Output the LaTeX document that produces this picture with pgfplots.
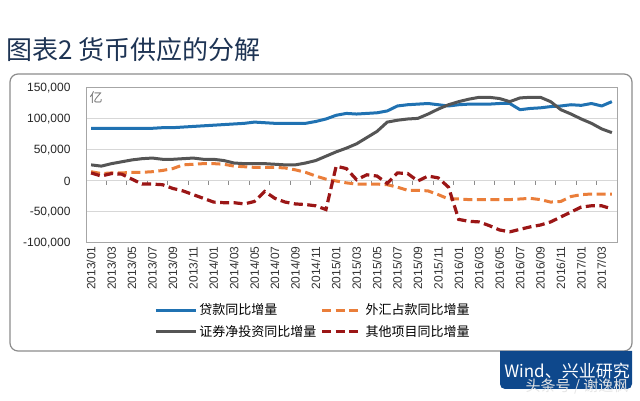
\documentclass[border=0pt]{standalone}
\usepackage{pgfplots}
\pgfplotsset{compat=1.18}
\usepackage{pgfplotstable}
\usepackage{fontspec}
\setmainfont{Liberation Sans}
\newfontfamily\cjk{Noto Sans CJK SC}
\definecolor{cblue}{RGB}{32,114,178}
\definecolor{corange}{RGB}{234,126,58}
\definecolor{cgrey}{RGB}{85,85,85}
\definecolor{cred}{RGB}{155,22,22}
\definecolor{titlecol}{RGB}{30,52,84}
\definecolor{windblue}{RGB}{14,72,140}
\definecolor{gridc}{RGB}{215,215,215}
\pgfplotstableread{
i loan fx sec other
0 85000 15000 26000 13000
1 85000 12000 24000 8000
2 85000 13000 28000 12000
3 85000 13000 31000 11000
4 85000 14000 34000 3000
5 85000 14000 36000 -5000
6 85000 15000 37000 -5000
7 86000 17000 35000 -6000
8 86000 20000 35000 -12000
9 87000 26000 36000 -16000
10 88000 27000 37000 -22000
11 89000 28000 35000 -28000
12 90000 28000 35000 -34000
13 91000 27000 33000 -35000
14 92000 24000 29000 -35000
15 93000 23000 28000 -37000
16 95000 22000 28000 -33000
17 94000 22000 28000 -17000
18 93000 22000 27000 -28000
19 93000 21000 26000 -34000
20 93000 18000 26000 -37000
21 93000 14000 29000 -38000
22 96000 8000 33000 -40000
23 100000 3000 40000 -46000
24 106000 0 47000 24000
25 109000 -3000 53000 20000
26 108000 -5000 60000 2000
27 109000 -5000 70000 10000
28 110000 -5000 80000 8000
29 113000 -6000 95000 -4000
30 121000 -10000 98000 13000
31 123000 -15000 100000 12000
32 124000 -15000 101000 0
33 125000 -16000 108000 8000
34 123000 -22000 116000 5000
35 121000 -29000 123000 -10000
36 123000 -29000 128000 -62000
37 124000 -30000 132000 -65000
38 124000 -30000 135000 -66000
39 124000 -30000 135000 -72000
40 125000 -30000 133000 -79000
41 125000 -30000 128000 -82000
42 115000 -29000 134000 -78000
43 117000 -28000 135000 -74000
44 118000 -30000 135000 -71000
45 120000 -34000 128000 -66000
46 121000 -33000 115000 -58000
47 123000 -25000 108000 -50000
48 122000 -22000 100000 -42000
49 125000 -21000 93000 -40000
50 121000 -21000 84000 -40000
51 128000 -21000 78000 -45000
}\datatable
\begin{document}
\begin{tikzpicture}[x=1pt,y=1pt]
\useasboundingbox (0pt,0pt) rectangle (640pt,401pt);
\node[anchor=west, inner sep=0, text=titlecol, font=\cjk\fontsize{26}{30}\selectfont] at (6pt,351pt) {图表2 货币供应的分解};
\draw[black!45, line width=1.2pt, rounded corners=8pt] (10pt,50pt) rectangle (632pt,327pt);
\fill[windblue] (500pt,50pt) [rounded corners=5pt] -- (500pt,12pt) -- (632pt,12pt) [sharp corners] -- (632pt,50pt) -- cycle;
\node[text=white, font=\cjk\fontsize{17}{17}\selectfont, inner sep=0] at (567pt,30pt) {Wind、兴业研究};
\node[text=white!80!gray, font=\cjk\fontsize{15}{15}\selectfont, inner sep=0] at (577pt,14pt) {头条号 / 谢逸枫};
\begin{axis}[
  at={(86pt,158pt)}, anchor=south west,
  width=531pt, height=155pt, scale only axis,
  xmin=-0.5, xmax=51.5, ymin=-100000, ymax=150000,
  axis line style={black!35, line width=1pt},
  xtick={0,2,...,50},
  xticklabels={2013/01,2013/03,2013/05,2013/07,2013/09,2013/11,2014/01,2014/03,2014/05,2014/07,2014/09,2014/11,2015/01,2015/03,2015/05,2015/07,2015/09,2015/11,2016/01,2016/03,2016/05,2016/07,2016/09,2016/11,2017/01,2017/03},
  xticklabel style={rotate=90, anchor=east, font=\fontsize{12}{12}\selectfont, text=black!80},
  ytick={-100000,-50000,0,50000,100000,150000},
  scaled y ticks=false,
  yticklabel style={/pgf/number format/fixed, /pgf/number format/1000 sep={,}, /pgf/number format/assume math mode=true, font=\fontsize{12}{12}\selectfont, text=black!85, xshift=-12pt},
  major tick length=0pt,
  ymajorgrids, grid style={gridc, line width=1pt},
  legend columns=2,
  legend cell align=left,
  legend style={at={(0.4275,-0.503)}, anchor=center, draw=none, fill=none,
    font=\cjk\fontsize{13}{13}\selectfont, row sep=5pt,
    /tikz/every even column/.append style={column sep=2pt}},
  legend image code/.code={\draw[#1] (0pt,0pt) -- (40pt,0pt);},
]
\pgfplotsinvokeforeach{1.5,3.5,5.5,7.5,9.5,11.5,13.5,15.5,17.5,19.5,21.5,23.5,25.5,27.5,29.5,31.5,33.5,35.5,37.5,39.5,41.5,43.5,45.5,47.5,49.5}{\draw[black!45, line width=1pt] (axis cs:#1,0) -- (axis cs:#1,-6500);}
\addplot[cblue, line width=3pt, line join=round] table[x=i, y=loan] {\datatable};
\addlegendentry{贷款同比增量}
\addplot[corange, line width=3pt, dash pattern=on 9pt off 4.5pt] table[x=i, y=fx] {\datatable};
\addlegendentry{外汇占款同比增量}
\addplot[cgrey, line width=3pt, line join=round] table[x=i, y=sec] {\datatable};
\addlegendentry{证券净投资同比增量}
\addplot[cred, line width=3.2pt, dash pattern=on 9pt off 4.5pt] table[x=i, y=other] {\datatable};
\addlegendentry{其他项目同比增量}
\end{axis}
\node[text=black!55, font=\cjk\fontsize{13}{13}\selectfont, inner sep=0] at (96pt,303pt) {亿};
\end{tikzpicture}
\end{document}
